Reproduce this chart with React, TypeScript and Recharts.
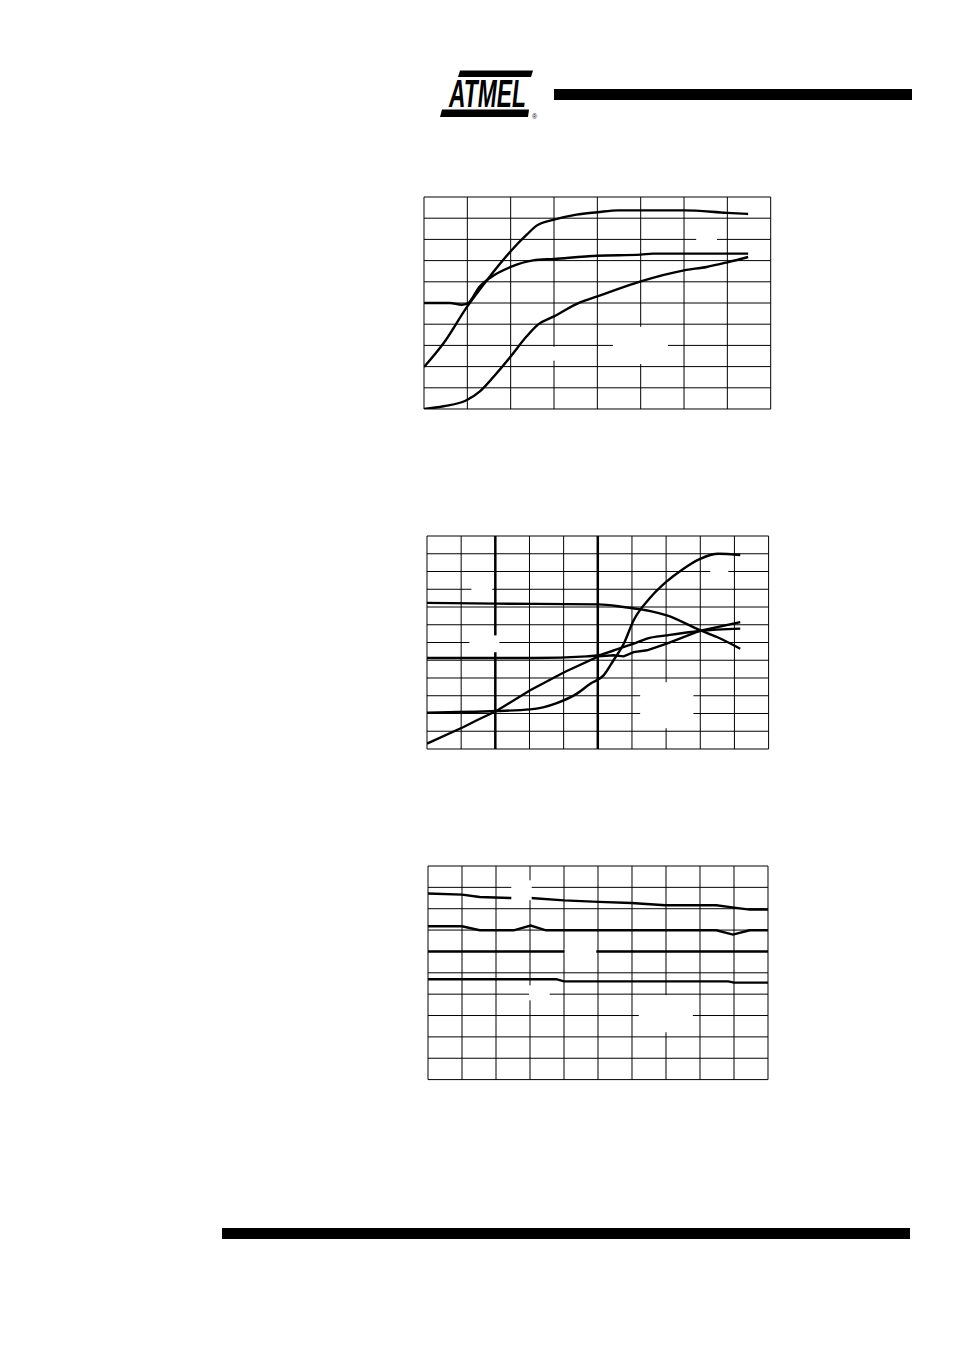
import React from "react";
import {
  LineChart,
  Line,
  XAxis,
  YAxis,
  CartesianGrid,
  ReferenceArea,
  ReferenceLine,
} from "recharts";

// ---------- Chart 1 (8 x 10 grid units) ----------
const c1GridX = [0, 1, 2, 3, 4, 5, 6, 7, 8];
const c1GridY = [0, 1, 2, 3, 4, 5, 6, 7, 8, 9, 10];
const c1TopX = [0, 0.45, 1, 1.46, 2, 2.37, 2.6, 3, 3.52, 4, 4.48, 5, 6, 7, 7.48];
const c1TopY = [1.98, 3.1, 4.84, 6.1, 7.44, 8.22, 8.65, 8.93, 9.17, 9.28, 9.37, 9.37, 9.37, 9.25, 9.2];
const c1MidX = [0, 0.6, 0.87, 1, 1.29, 1.52, 2, 2.52, 3, 4, 5, 5.28, 6, 7.48];
const c1MidY = [5.0, 5.0, 4.92, 4.97, 5.79, 6.18, 6.7, 7.01, 7.08, 7.23, 7.28, 7.33, 7.33, 7.33];
const c1LowX = [0, 0.45, 0.98, 1.29, 1.68, 2, 2.37, 2.63, 3, 3.6, 4, 5, 6, 6.52, 7, 7.48];
const c1LowY = [0, 0.13, 0.41, 0.83, 1.7, 2.48, 3.43, 3.98, 4.37, 5.03, 5.31, 6.02, 6.54, 6.7, 6.92, 7.17];
// blank label boxes [x1, x2, y1, y2]
const c1Blanks = [
  [4.36, 5.63, 2.12, 3.88],
  [2.91, 3.09, 2.28, 2.94],
  [6.28, 6.76, 7.55, 8.26],
];

// ---------- Chart 2 (10 x 12 grid units) ----------
const c2GridX = [0, 1, 2, 3, 4, 5, 6, 7, 8, 9, 10];
const c2GridY = [0, 1, 2, 3, 4, 5, 6, 7, 8, 9, 10, 11, 12];
const c2HeavyX = [2, 5];
const c2SX = [0, 2.03, 3.02, 3.8, 4.39, 4.78, 5.17, 5.46, 5.76, 6.05, 6.54, 7, 7.51, 7.98, 8.54, 9.17];
const c2SY = [2.05, 2.14, 2.23, 2.59, 3.12, 3.68, 4.15, 5.0, 5.93, 7.25, 8.53, 9.41, 10.16, 10.7, 11.0, 10.93];
const c2HighX = [0, 2.03, 5.02, 5.76, 6.54, 7.02, 8, 8.49, 9.17];
const c2HighY = [8.23, 8.19, 8.15, 8.0, 7.77, 7.53, 6.69, 6.31, 5.65];
const c2FlatX = [0, 3.12, 4.68, 5.02, 5.46, 6.05, 6.44, 7.02, 7.98, 9.17];
const c2FlatY = [5.13, 5.13, 5.22, 5.28, 5.55, 5.93, 6.22, 6.4, 6.65, 6.78];
const c2RiseX = [0, 1.07, 1.46, 2.03, 3.02, 4.03, 5.02, 5.46, 5.76, 6.05, 6.44, 7.02, 7.98, 9.17];
const c2RiseY = [0.3, 1.24, 1.62, 2.14, 3.31, 4.34, 5.22, 5.28, 5.22, 5.46, 5.56, 5.93, 6.65, 7.15];
const c2Blanks = [
  [1.3, 1.91, 8.6, 9.5],
  [1.24, 2.12, 5.45, 6.4],
  [6.24, 7.8, 1.17, 3.76],
  [8.29, 8.82, 9.6, 10.46],
];

// ---------- Chart 3 (10 x 10 grid units) ----------
const c3GridX = [0, 1, 2, 3, 4, 5, 6, 7, 8, 9, 10];
const c3GridY = [0, 1, 2, 3, 4, 5, 6, 7, 8, 9, 10];
const c3AX = [0, 1, 1.52, 2.4, 3.02, 4, 5.02, 5.98, 6.98, 8.48, 9, 9.46, 10];
const c3AY = [8.71, 8.66, 8.55, 8.5, 8.5, 8.39, 8.32, 8.27, 8.16, 8.16, 8.05, 7.96, 7.96];
const c3BX = [0, 1, 1.52, 2.52, 3.02, 3.47, 8.48, 8.97, 9.46, 10];
const c3BY = [7.18, 7.18, 6.99, 6.99, 7.21, 6.99, 6.99, 6.79, 6.99, 6.99];
const c3CX = [0, 10];
const c3CY = [6, 6];
const c3DX = [0, 3.77, 4, 8.83, 9, 10];
const c3DY = [4.7, 4.7, 4.6, 4.6, 4.54, 4.54];
const c3Blanks = [
  [2.45, 3.05, 8.4, 9.33],
  [2.97, 3.58, 3.71, 4.41],
  [6.2, 7.79, 2.22, 3.96],
  [4.02, 4.95, 5.88, 6.12],
];

const zip = (xs: number[], ys: number[]) => xs.map((x, i) => ({ x, y: ys[i] }));

const LeftTick = (p: any) =>
  p.payload.value % 2 === 0 ? (
    <line x1={p.x - 3} x2={p.x} y1={p.y} y2={p.y} stroke="#000" strokeWidth={1} />
  ) : (
    <g />
  );
const RightTick = (p: any) =>
  p.payload.value % 2 === 0 ? (
    <line x1={p.x} x2={p.x + 3} y1={p.y} y2={p.y} stroke="#000" strokeWidth={1} />
  ) : (
    <g />
  );
const BottomTick = (p: any) =>
  p.payload.value % 2 === 0 ? (
    <line x1={p.x} x2={p.x} y1={p.y} y2={p.y + 3} stroke="#000" strokeWidth={1} />
  ) : (
    <g />
  );

type Series = { xs: number[]; ys: number[]; type: "monotone" | "linear"; w?: number };

const M = { top: 4, right: 6, bottom: 4, left: 6 };

function GridChart(props: {
  left: number;
  top: number;
  w: number;
  h: number;
  gx: number[];
  gy: number[];
  series: Series[];
  blanks: number[][];
  heavyX?: number[];
  rightW?: number;
}) {
  const { left, top, w, h, gx, gy, series, blanks, heavyX = [], rightW = 1 } = props;
  const xMax = gx[gx.length - 1];
  const yMax = gy[gy.length - 1];
  return (
    <div style={{ position: "absolute", left: left - M.left, top: top - M.top }}>
      <LineChart width={w + M.left + M.right} height={h + M.top + M.bottom} margin={M}>
        <CartesianGrid stroke="#000" strokeWidth={1} fill="#fff" />
        <XAxis
          type="number"
          dataKey="x"
          domain={[0, xMax]}
          ticks={gx}
          interval={0}
          height={0}
          tickSize={0}
          tickMargin={0}
          tick={BottomTick}
          axisLine={{ stroke: "#000", strokeWidth: 1 }}
          allowDataOverflow
        />
        <XAxis
          xAxisId="top"
          orientation="top"
          type="number"
          domain={[0, xMax]}
          ticks={gx}
          interval={0}
          height={0}
          tick={false}
          tickLine={false}
          axisLine={{ stroke: "#000", strokeWidth: 1 }}
        />
        <YAxis
          type="number"
          domain={[0, yMax]}
          ticks={gy}
          interval={0}
          width={0}
          tickSize={0}
          tickMargin={0}
          tick={LeftTick}
          axisLine={{ stroke: "#000", strokeWidth: 1.5 }}
          allowDataOverflow
        />
        <YAxis
          yAxisId="r"
          orientation="right"
          type="number"
          domain={[0, yMax]}
          ticks={gy}
          interval={0}
          width={0}
          tickSize={0}
          tickMargin={0}
          tick={RightTick}
          axisLine={{ stroke: "#000", strokeWidth: rightW }}
        />
        {heavyX.map((v) => (
          <ReferenceLine key={"h" + v} x={v} stroke="#000" strokeWidth={2.5} />
        ))}
        {series.map((s, i) => (
          <Line
            key={i}
            data={zip(s.xs, s.ys)}
            dataKey="y"
            type={s.type}
            stroke="#000"
            strokeWidth={s.w ?? 2.4}
            dot={false}
            activeDot={false}
            isAnimationActive={false}
          />
        ))}
        {blanks.map((b, i) => (
          <ReferenceArea
            key={"b" + i}
            x1={b[0]}
            x2={b[1]}
            y1={b[2]}
            y2={b[3]}
            fill="#fff"
            fillOpacity={1}
            stroke="none"
            zIndex={450}
          />
        ))}
      </LineChart>
    </div>
  );
}

function Logo() {
  return (
    <svg
      style={{ position: "absolute", left: 426, top: 58 }}
      width={130}
      height={70}
      viewBox="426 58 130 70"
    >
      <polygon points="460,70.5 533,70.5 531,77 458,77" fill="#000" />
      <g transform="translate(449,107) scale(0.6,1)">
        <text
          x={0}
          y={0}
          fontFamily="Liberation Sans, Arial, sans-serif"
          fontWeight={900}
          fontStyle="italic"
          fontSize={38}
          fill="#000"
        >
          ATMEL
        </text>
      </g>
      <polygon points="442,109.5 529,109.5 528,117 440,117" fill="#000" />
      <text x={532} y={119} fontSize={7} fontFamily="Liberation Sans, Arial, sans-serif" fill="#000">
        ®
      </text>
    </svg>
  );
}

export default function App() {
  return (
    <div style={{ position: "absolute", left: 0, top: 0, width: 954, height: 1351, background: "#fff" }}>
      <Logo />
      <div style={{ position: "absolute", left: 554, top: 89, width: 358, height: 11, background: "#000" }} />
      <GridChart
        left={424}
        top={197.3}
        w={346.7}
        h={212}
        gx={c1GridX}
        gy={c1GridY}
        blanks={c1Blanks}
        series={[
          { xs: c1TopX, ys: c1TopY, type: "monotone" },
          { xs: c1MidX, ys: c1MidY, type: "monotone" },
          { xs: c1LowX, ys: c1LowY, type: "monotone" },
        ]}
      />
      <GridChart
        left={426.7}
        top={535.7}
        w={341.6}
        h={213}
        gx={c2GridX}
        gy={c2GridY}
        blanks={c2Blanks}
        heavyX={c2HeavyX}
        series={[
          { xs: c2SX, ys: c2SY, type: "monotone" },
          { xs: c2HighX, ys: c2HighY, type: "monotone" },
          { xs: c2FlatX, ys: c2FlatY, type: "monotone" },
          { xs: c2RiseX, ys: c2RiseY, type: "linear" },
        ]}
      />
      <GridChart
        left={428.3}
        top={865.7}
        w={340}
        h={213.6}
        gx={c3GridX}
        gy={c3GridY}
        blanks={c3Blanks}
        rightW={3}
        series={[
          { xs: c3AX, ys: c3AY, type: "linear" },
          { xs: c3BX, ys: c3BY, type: "linear" },
          { xs: c3CX, ys: c3CY, type: "linear", w: 2.6 },
          { xs: c3DX, ys: c3DY, type: "linear" },
        ]}
      />
      <div style={{ position: "absolute", left: 222, top: 1228, width: 688, height: 11, background: "#000" }} />
    </div>
  );
}
